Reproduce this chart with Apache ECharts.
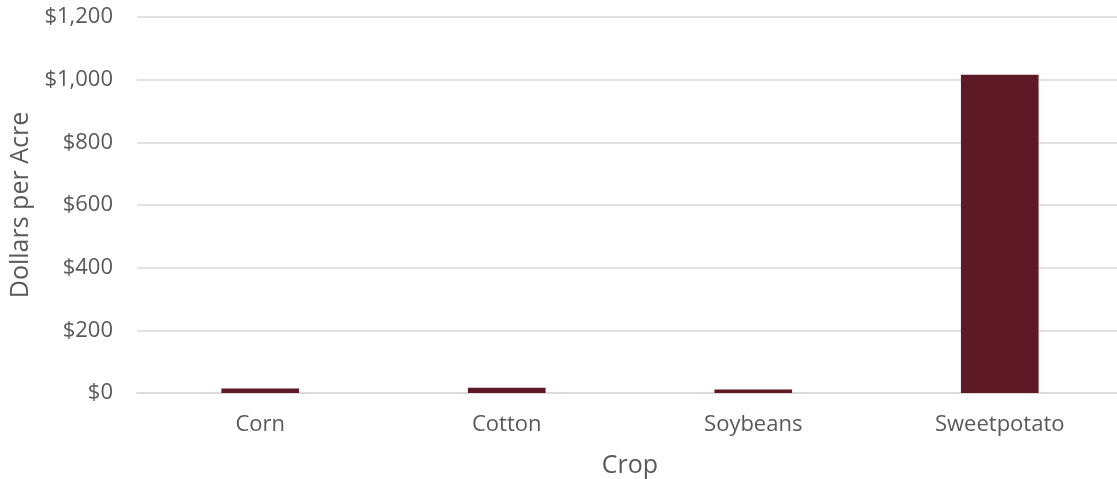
<!DOCTYPE html>
<html>
<head>
<meta charset="utf-8">
<script src="https://cdn.jsdelivr.net/npm/echarts@6/dist/echarts.min.js"></script>
<style>
  html, body { margin: 0; padding: 0; background: #ffffff; }
  #chart { width: 1117px; height: 479px; }
</style>
</head>
<body>
<div id="chart"></div>
<script>
// Per-acre dollar values by crop
const crops = ['Corn', 'Cotton', 'Soybeans', 'Sweetpotato'];
const dollarsPerAcre = [14, 17, 11, 1016];
const yTicks = [0, 200, 400, 600, 800, 1000, 1200];

const textColor = '#595959';
const gridColor = '#d9d9d9';
const barColor = '#5e1926';
const fontFamily = 'Open Sans';

const chart = echarts.init(document.getElementById('chart'), null, { renderer: 'canvas' });

chart.setOption({
  animation: false,
  backgroundColor: '#ffffff',
  grid: {
    left: 137, right: -6, top: 17, bottom: 86,
    containLabel: false,
    outerBoundsMode: 'none'
  },
  xAxis: {
    type: 'category',
    data: crops,
    name: 'Crop',
    nameLocation: 'middle',
    nameGap: 60,
    nameTextStyle: { color: textColor, fontSize: 25, fontFamily },
    axisLine: { show: true, lineStyle: { color: gridColor, width: 1.5 } },
    axisTick: { show: false },
    axisLabel: { color: textColor, fontSize: 22, fontFamily, margin: 21 }
  },
  yAxis: {
    type: 'value',
    min: yTicks[0],
    max: yTicks[yTicks.length - 1],
    interval: 200,
    name: 'Dollars per Acre',
    nameLocation: 'middle',
    nameGap: 102,
    nameRotate: 90,
    nameTextStyle: { color: textColor, fontSize: 25, fontFamily },
    axisLine: { show: false },
    axisTick: { show: false },
    splitLine: { lineStyle: { color: gridColor, width: 1.5 } },
    axisLabel: {
      color: textColor,
      fontSize: 22,
      fontFamily,
      margin: 24,
      formatter: v => '$' + v.toLocaleString('en-US')
    }
  },
  series: [{
    type: 'bar',
    data: dollarsPerAcre,
    barWidth: '31.5%',
    itemStyle: { color: barColor }
  }]
});
</script>
</body>
</html>
